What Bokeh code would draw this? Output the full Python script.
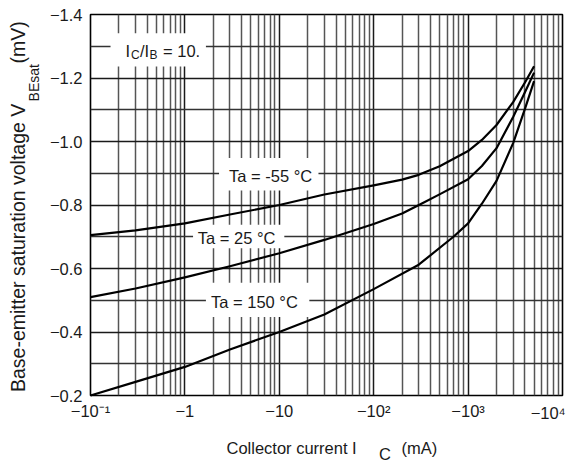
from bokeh.plotting import figure
from bokeh.models import (Range1d, FixedTicker, CustomJSTickFormatter, Label,
                          BoxAnnotation, LogAxis, LinearAxis)
from bokeh.embed import file_html
from bokeh.resources import INLINE

# ---- data ----
current_m55 = [0.1, 0.3, 1, 3, 10, 30, 100, 200, 300, 500, 1000, 1400, 2000, 3000, 4000, 5000]
vbe_m55 = [-0.705, -0.72, -0.742, -0.77, -0.80, -0.833, -0.862, -0.880, -0.895, -0.922,
           -0.970, -1.005, -1.052, -1.124, -1.186, -1.237]

current_25 = [0.1, 0.3, 1, 3, 10, 30, 100, 200, 320, 510, 1000, 1400, 2000, 3000, 4000, 5000]
vbe_25 = [-0.51, -0.537, -0.572, -0.607, -0.648, -0.69, -0.74, -0.773, -0.804, -0.835,
          -0.881, -0.923, -0.979, -1.077, -1.155, -1.217]

current_150 = [0.1, 0.3, 1, 3, 10, 30, 100, 300, 700, 1000, 1400, 2000, 3000, 4000, 5000]
vbe_150 = [-0.20, -0.243, -0.29, -0.345, -0.40, -0.455, -0.535, -0.612, -0.70,
           -0.742, -0.804, -0.876, -0.995, -1.103, -1.19]

x_ticks = [0.1, 1, 10, 100, 1000, 10000]
x_tick_labels = ["−10⁻¹", "−1", "−10", "−10²", "−10³", "−10⁴"]
y_ticks = [-0.2, -0.4, -0.6, -0.8, -1.0, -1.2, -1.4]
y_minor = [-0.3, -0.5, -0.7, -0.9, -1.1, -1.3]

FONT = "Liberation Sans"
TXT = "#1a1a1a"

p = figure(width=576, height=465, x_axis_type="log",
           x_range=Range1d(0.1, 1e4), y_range=Range1d(-0.2, -1.4),
           output_backend="svg", toolbar_location=None,
           min_border_left=90, min_border_right=14, min_border_top=14,
           min_border_bottom=63)
p.background_fill_color = "white"
p.border_fill_color = "white"
p.outline_line_color = "black"
p.outline_line_width = 1.6

minor_x = [m * 10.0 ** e for e in range(-1, 4) for m in range(2, 10)]
p.xaxis.ticker = FixedTicker(ticks=x_ticks, minor_ticks=minor_x)
p.yaxis.ticker = FixedTicker(ticks=y_ticks, minor_ticks=y_minor)

# last decade label is drawn by a helper axis so that it stays inside the page
p.xaxis.formatter = CustomJSTickFormatter(args=dict(labels=x_tick_labels), code="""
    const i = Math.round(Math.log10(tick)) + 1;
    return (i == labels.length - 1) ? '' : labels[i];
""")
p.yaxis.formatter = CustomJSTickFormatter(code="return '−' + Math.abs(tick).toFixed(1);")


def style_axis(ax, size="16.5px", standoff=6):
    ax.axis_line_color = None
    ax.major_tick_line_color = None
    ax.minor_tick_line_color = None
    ax.major_tick_in = 0
    ax.major_tick_out = 0
    ax.minor_tick_in = 0
    ax.minor_tick_out = 0
    ax.major_label_text_font = FONT
    ax.major_label_text_font_size = size
    ax.major_label_text_color = TXT
    ax.major_label_standoff = int(standoff)


style_axis(p.xaxis[0], standoff=6)
style_axis(p.yaxis[0], standoff=8)


def text_formatter(pos, labels):
    return CustomJSTickFormatter(args=dict(pos=pos, labels=labels), code="""
        for (let i = 0; i < pos.length; i++) {
            if (Math.abs(pos[i] - tick) <= 1e-6 * Math.max(1, Math.abs(tick))) return labels[i];
        }
        return '';
    """)


def helper_axis(cls, place, pos, labels, size, standoff, vertical=False):
    ax = cls(ticker=FixedTicker(ticks=pos), formatter=text_formatter(pos, labels))
    style_axis(ax, size=size, standoff=standoff)
    if vertical:
        ax.major_label_orientation = "vertical"
    p.add_layout(ax, place)
    return ax


# "−10⁴" (same row as the other decade labels)
helper_axis(LogAxis, "below", [7050.0], [x_tick_labels[-1]], "16.5px", -19)
# x axis title: Collector current I_C (mA)
helper_axis(LogAxis, "below", [13.5, 305.0], ["Collector current I", "(mA)"], "16.5px", 14)
helper_axis(LogAxis, "below", [132.0], ["C"], "16.5px", -15)
# y axis title: Base-emitter saturation voltage V_BEsat (mV)
helper_axis(LinearAxis, "left", [-1.185], ["BEsat"], "14px", 4, vertical=True)
helper_axis(LinearAxis, "left", [-0.665, -1.312],
            ["Base-emitter saturation voltage V", "(mV)"], "19.5px", -6, vertical=True)

p.xgrid.grid_line_color = "#1a1a1a"
p.xgrid.grid_line_width = 1.5
p.xgrid.minor_grid_line_color = "#555555"
p.xgrid.minor_grid_line_width = 1.5
p.ygrid.grid_line_color = "#1a1a1a"
p.ygrid.grid_line_width = 1.5
p.ygrid.minor_grid_line_color = "#333333"
p.ygrid.minor_grid_line_width = 1.5

# white backgrounds behind the annotations (they break the grid)
for l, r, b, t in [(0.163, 1.67, -1.236, -1.341),
                   (2.30, 26.0, -0.846, -0.948),
                   (1.22, 11.3, -0.664, -0.738),
                   (1.67, 20.8, -0.447, -0.555)]:
    p.add_layout(BoxAnnotation(left=l, right=r, bottom=b, top=t,
                               fill_color="white", fill_alpha=1.0,
                               line_color=None))

for xs, ys in [(current_m55, vbe_m55), (current_25, vbe_25), (current_150, vbe_150)]:
    r = p.line(xs, ys, line_color="black", line_width=2.2, line_join="round")
    r.level = "overlay"


def lab(x, y, text, size="16.5px", x_offset=0):
    p.add_layout(Label(x=x, y=y, text=text, text_font=FONT, text_font_size=size,
                       text_color=TXT, text_align="left", text_baseline="middle",
                       x_offset=x_offset))


# Ta labels
lab(2.94, -0.892, "Ta = -55 °C")
lab(1.37, -0.695, "Ta = 25 °C")
lab(1.89, -0.494, "Ta = 150 °C")

# IC/IB = 10.
x0 = 0.235
lab(x0, -1.285, "I")
lab(x0, -1.274, "C", size="12px", x_offset=5.5)
lab(x0, -1.285, "/I", x_offset=14.5)
lab(x0, -1.274, "B", size="12px", x_offset=24)
lab(x0, -1.285, "= 10.", x_offset=37.5)

open("out.html", "w").write(file_html(p, INLINE))
